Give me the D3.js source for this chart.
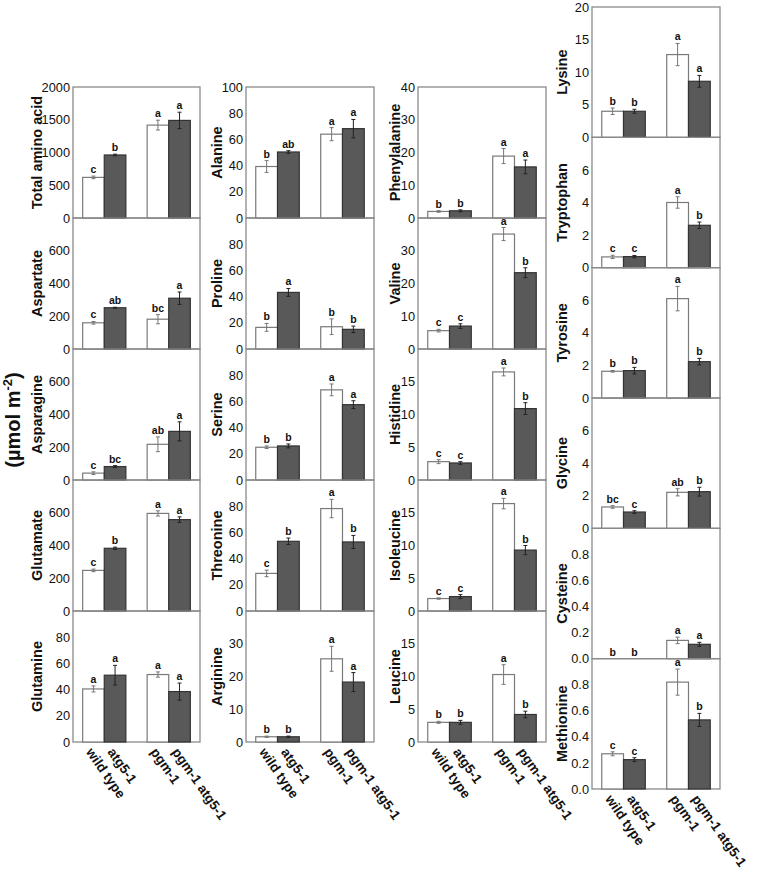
<!DOCTYPE html>
<html><head><meta charset="utf-8">
<script src="https://cdn.jsdelivr.net/npm/d3@7"></script>
<style>
body{margin:0;background:#fff}
svg{display:block}
text{font-family:"Liberation Sans", Arial, Helvetica, sans-serif;fill:#111}
</style>
</head><body>
<svg id="chart" width="757" height="869"></svg>
<script>
const genotypes = ["wild type", "atg5-1", "pgm-1", "pgm-1 atg5-1"];
const groupNames = ["wild type", "pgm-1"];

const aminoAcids = [
  "Total amino acid", "Aspartate", "Asparagine", "Glutamate", "Glutamine",
  "Alanine", "Proline", "Serine", "Threonine", "Arginine",
  "Phenylalanine", "Valine", "Histidine", "Isoleucine", "Leucine",
  "Lysine", "Tryptophan", "Tyrosine", "Glycine", "Cysteine", "Methionine"
];

const meanValues = [
  [620, 962, 1418, 1490],
  [160, 252, 182, 310],
  [42, 82, 218, 297],
  [248, 383, 596, 558],
  [40.5, 51, 51.5, 38.5],
  [39.3, 50.4, 64, 68.2],
  [16.5, 43.2, 17, 15],
  [25, 26, 68.8, 57.5],
  [28.7, 53.2, 78.2, 52.7],
  [1.6, 1.6, 25.4, 18.3],
  [2.0, 2.2, 18.9, 15.6],
  [5.6, 7.0, 35.1, 23.3],
  [2.8, 2.6, 16.5, 10.9],
  [1.9, 2.2, 16.4, 9.3],
  [3.0, 3.0, 10.3, 4.2],
  [4.0, 4.0, 12.7, 8.6],
  [0.66, 0.68, 4.0, 2.6],
  [1.64, 1.68, 6.1, 2.23],
  [1.31, 1.0, 2.21, 2.25],
  [0, 0, 0.14, 0.11],
  [0.27, 0.225, 0.82, 0.53]
];

const errorValues = [
  [20, 12, 75, 125],
  [8, 3, 28, 38],
  [8, 6, 45, 58],
  [8, 7, 16, 17],
  [2.3, 7.5, 2, 6.5],
  [4.5, 1, 5, 7],
  [3, 3, 6, 2.5],
  [1, 1.5, 4.5, 3],
  [2.5, 2.5, 7, 5],
  [0.2, 0.2, 3.8, 2.9],
  [0.25, 0.3, 2.3, 2.1],
  [0.4, 0.7, 2, 1.5],
  [0.3, 0.2, 0.6, 0.9],
  [0.1, 0.3, 0.8, 0.7],
  [0.15, 0.3, 1.5, 0.5],
  [0.5, 0.3, 1.7, 0.9],
  [0.1, 0.07, 0.35, 0.2],
  [0.05, 0.2, 0.75, 0.2],
  [0.08, 0.08, 0.22, 0.27],
  [0, 0, 0.025, 0.015],
  [0.015, 0.015, 0.1, 0.05]
];

const letterLabels = [
  ["c", "b", "a", "a"],
  ["c", "ab", "bc", "a"],
  ["c", "bc", "ab", "a"],
  ["c", "b", "a", "a"],
  ["a", "a", "a", "a"],
  ["b", "ab", "a", "a"],
  ["b", "a", "b", "b"],
  ["b", "b", "a", "a"],
  ["c", "b", "a", "b"],
  ["b", "b", "a", "a"],
  ["b", "b", "a", "a"],
  ["c", "c", "a", "b"],
  ["c", "c", "a", "b"],
  ["c", "c", "a", "b"],
  ["b", "b", "a", "b"],
  ["b", "b", "a", "a"],
  ["c", "c", "a", "b"],
  ["b", "b", "a", "b"],
  ["bc", "c", "ab", "b"],
  ["b", "b", "a", "a"],
  ["c", "c", "a", "b"]
];

const axisMax = [2000, 800, 800, 800, 100, 100, 100, 100, 100, 40, 40, 40, 20, 20, 20, 20, 8, 8, 8, 1, 1];

const axisTicks = [
  [0, 500, 1000, 1500, 2000],
  [0, 200, 400, 600],
  [0, 200, 400, 600],
  [0, 200, 400, 600],
  [0, 20, 40, 60, 80],
  [0, 20, 40, 60, 80, 100],
  [0, 20, 40, 60, 80],
  [0, 20, 40, 60, 80],
  [0, 20, 40, 60, 80],
  [0, 10, 20, 30],
  [0, 10, 20, 30, 40],
  [0, 10, 20, 30],
  [0, 5, 10, 15],
  [0, 5, 10, 15],
  [0, 5, 10, 15],
  [0, 5, 10, 15, 20],
  [0, 2, 4, 6],
  [0, 2, 4, 6],
  [0, 2, 4, 6],
  [0.0, 0.2, 0.4, 0.6, 0.8],
  [0.0, 0.2, 0.4, 0.6, 0.8]
];
const tickFormats = ["d","d","d","d","d","d","d","d","d","d","d","d","d","d","d","d","d","d","d",".1f",".1f"];

const columnMembers = [[0, 1, 2, 3, 4], [5, 6, 7, 8, 9], [10, 11, 12, 13, 14], [15, 16, 17, 18, 19, 20]];

// ---- layout (not data) ----
const colLeft = [73, 246, 418, 592];
const colWidth = [127, 128, 128, 128];
const colTop = [87, 87, 87, 7];
const panelH = [131, 131, 131, 130.33];
const titleX = [42, 222, 400, 567];

const svg = d3.select("#chart");
const frameColor = "#8a8a8a";

columnMembers.forEach((members, c) => {
  const x0 = colLeft[c], w = colWidth[c];
  const gx = d3.scaleBand().domain(groupNames).range([0, w]).paddingInner(0.33).paddingOuter(0.15);
  const sx = d3.scaleBand().domain([0, 1]).range([0, gx.bandwidth()]);
  const barX = i => gx(groupNames[Math.floor(i / 2)]) + sx(i % 2);

  members.forEach((k, r) => {
    const top = colTop[c] + r * panelH[c];
    const h = panelH[c];
    const g = svg.append("g").attr("transform", `translate(${x0},${top})`);
    const y = d3.scaleLinear().domain([0, axisMax[k]]).range([h, 0]);

    // frame
    g.append("rect").attr("x", 0).attr("y", 0).attr("width", w).attr("height", h)
      .attr("fill", "none").attr("stroke", frameColor).attr("stroke-width", 1.3);

    // y axis
    const ticks = axisTicks[k];
    const ax = d3.axisLeft(y).tickValues(ticks).tickSize(0).tickPadding(3)
      .tickFormat(d3.format(tickFormats[k]));
    const axg = g.append("g").call(ax);
    axg.select(".domain").remove();
    axg.selectAll("text").attr("font-size", 12.8).attr("fill", "#111")
      .style("font-family", '"Liberation Sans", Arial, sans-serif');

    // bars
    const vals = meanValues[k];
    const errs = errorValues[k];
    const bw = sx.bandwidth();
    g.selectAll("rect.bar").data(vals).enter().append("rect")
      .attr("class", "bar")
      .attr("x", (d, i) => barX(i))
      .attr("y", d => y(d))
      .attr("width", bw)
      .attr("height", d => h - y(d))
      .attr("fill", (d, i) => i % 2 === 0 ? "#ffffff" : "#595959")
      .attr("stroke", (d, i) => i % 2 === 0 ? "#7a7a7a" : "#333333")
      .attr("stroke-width", 1.2);

    // error bars
    vals.forEach((v, i) => {
      const e = errs[i];
      if (e <= 0) return;
      const cx = barX(i) + bw / 2;
      const col = i % 2 === 0 ? "#777" : "#222";
      const eg = g.append("g").attr("stroke", col).attr("stroke-width", 1);
      eg.append("line").attr("x1", cx).attr("x2", cx).attr("y1", y(v - e)).attr("y2", y(v + e));
      eg.append("line").attr("x1", cx - 2).attr("x2", cx + 2).attr("y1", y(v - e)).attr("y2", y(v - e));
      eg.append("line").attr("x1", cx - 2).attr("x2", cx + 2).attr("y1", y(v + e)).attr("y2", y(v + e));
    });

    // letters
    g.selectAll("text.sig").data(vals).enter().append("text")
      .attr("class", "sig")
      .attr("x", (d, i) => barX(i) + bw / 2)
      .attr("y", (d, i) => y(d + errs[i]) - 3)
      .attr("text-anchor", "middle")
      .attr("font-size", 10.5).attr("font-weight", "bold")
      .text((d, i) => letterLabels[k][i]);

    // y title
    svg.append("text")
      .attr("transform", `translate(${titleX[c]},${top + h / 2}) rotate(-90)`)
      .attr("text-anchor", "middle")
      .attr("font-size", 14.5).attr("font-weight", "bold")
      .text(aminoAcids[k]);

    // x labels for bottom panel
    if (r === members.length - 1) {
      genotypes.forEach((gname, i) => {
        const cx = x0 + barX(i) + bw / 2;
        svg.append("text")
          .attr("transform", `translate(${cx - 8},${top + h + 10}) rotate(55)`)
          .attr("text-anchor", "start")
          .attr("font-size", 13.5).attr("font-weight", "bold")
          .text(gname);
      });
    }
  });
});

// unit label
const unit = svg.append("text")
  .attr("transform", "translate(19.5,420) rotate(-90)")
  .attr("text-anchor", "middle")
  .attr("font-size", 20).attr("font-weight", "bold");
unit.append("tspan").text("(\u00B5mol m");
unit.append("tspan").attr("font-size", 13).attr("dy", -8).text("-2");
unit.append("tspan").attr("dy", 8).text(")");
</script>
</body></html>
